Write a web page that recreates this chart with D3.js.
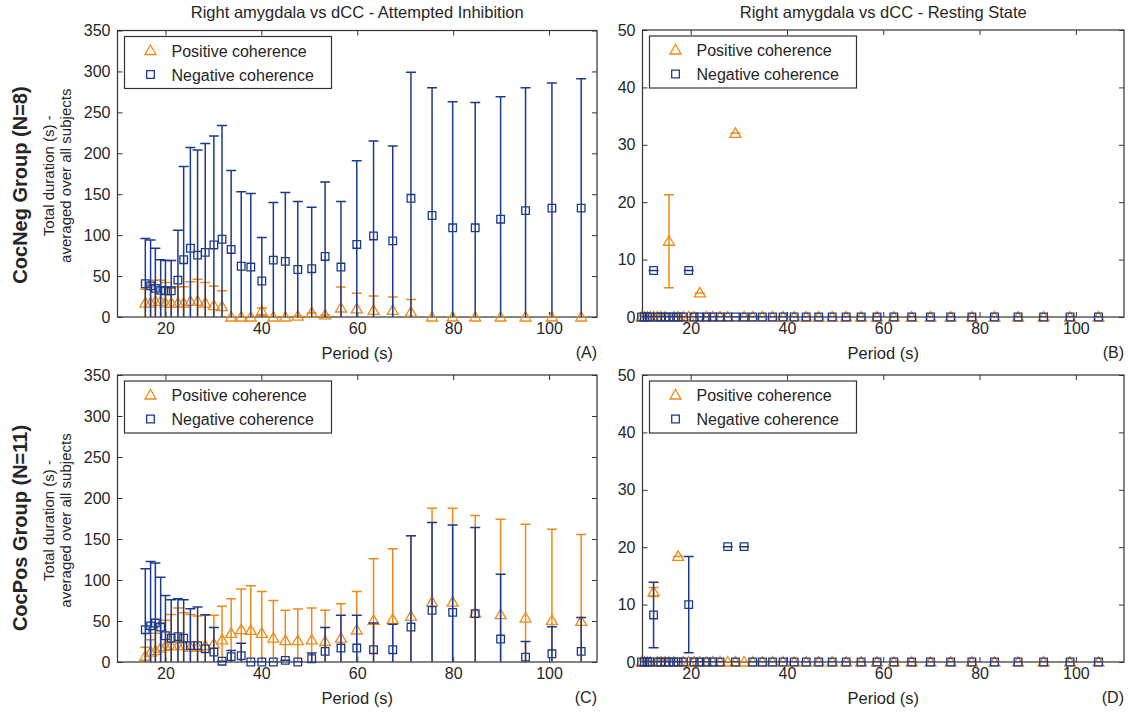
<!DOCTYPE html>
<html lang="en">
<head>
<meta charset="UTF-8">
<title>Right amygdala vs dCC coherence durations</title>
<style>
  html, body { margin: 0; padding: 0; background: #fff; }
  svg text { font-family: "Liberation Sans", Arial, sans-serif; fill: #262626; }
</style>
</head>
<body>
<div id="chart"></div>
<script src="https://d3js.org/d3.v7.min.js"></script>
<script>
// periods (s) of the attempted inhibition panels (A, C)
const periodsTask = [15.8, 16.9, 17.9, 19.0, 20.0, 21.2, 22.6, 23.8, 25.2, 26.7, 28.3, 30.1, 31.8, 33.7, 35.8, 37.8, 40.1,
  42.5, 45.0, 47.6, 50.5, 53.3, 56.6, 59.9, 63.4, 67.4, 71.2, 75.6, 79.9, 84.6, 89.9, 95.1, 100.6, 106.7];

// periods (s) of the resting state panels (B, D)
const periodsRest = [9.8, 10.4, 11.0, 11.6, 12.3, 13.1, 13.8, 14.7, 15.5, 16.5, 17.4, 18.5, 19.6, 20.7, 21.9, 23.3, 24.6,
  26.1, 27.7, 29.3, 31.1, 32.9, 34.9, 37.0, 39.2, 41.5, 44.0, 46.6, 49.4, 52.3, 55.4, 58.7, 62.2, 65.9, 69.8, 74.0, 78.4,
  83.1, 88.0, 93.3, 98.8, 104.7];

// (A) CocNeg, attempted inhibition
const posA = [17, 17, 19, 19, 17, 17, 17, 17, 19, 19, 17, 14, 12.6, 0, 0, 0, 7, 0, 0, 1, 5, 2.5, 11, 10, 8, 8, 6, 0, 0, 0, 0, 0, 0, 0];
const posAErr = [17, 21, 26, 26, 25, 18, 20, 20, 24, 27, 25, 24, 19.4, 0, 0, 0, 4, 0, 0, 0, 0, 0, 25.6, 19, 17.6, 16.4, 15.5, 0, 0, 0, 0, 0, 0, 0];
const negA = [40.6, 38, 35, 32.5, 32, 32, 45, 70, 84, 75.6, 79, 88, 95, 82.5, 62, 61, 44, 69.5, 68, 58, 59, 74, 61, 88.6,
  99, 93, 145, 124, 109, 109, 119.5, 130, 133, 133];
const negAErr = [55.4, 56, 49, 37.5, 37, 37, 61, 114, 123, 128.4, 133, 133, 139, 96.5, 91, 90, 53, 70.5, 84, 83, 75, 91, 80, 102.4,
  116, 116, 154, 156, 154, 153, 149.5, 150, 153, 158];

// (B) CocNeg, resting state
const posB = [0, 0, 0, 0, 0, 0, 0, 0, 13.2, 0, 0, 0, 0, 0, 4.2, 0, 0, 0, 0, 32, 0, 0, 0, 0, 0, 0, 0, 0, 0, 0, 0, 0, 0, 0, 0, 0, 0, 0, 0, 0, 0, 0];
const posBErr = [0, 0, 0, 0, 0, 0, 0, 0, 8.1, 0, 0, 0, 0, 0, 0, 0, 0, 0, 0, 0, 0, 0, 0, 0, 0, 0, 0, 0, 0, 0, 0, 0, 0, 0, 0, 0, 0, 0, 0, 0, 0, 0];
const negB = [0, 0, 0, 0, 8.1, 0, 0, 0, 0, 0, 0, 0, 8.1, 0, 0, 0, 0, 0, 0, 0, 0, 0, 0, 0, 0, 0, 0, 0, 0, 0, 0, 0, 0, 0, 0, 0, 0, 0, 0, 0, 0, 0];
const negBErr = [0, 0, 0, 0, 0, 0, 0, 0, 0, 0, 0, 0, 0, 0, 0, 0, 0, 0, 0, 0, 0, 0, 0, 0, 0, 0, 0, 0, 0, 0, 0, 0, 0, 0, 0, 0, 0, 0, 0, 0, 0, 0];

// (C) CocPos, attempted inhibition
const posC = [7, 12, 14, 17, 19, 20, 20, 20, 18, 18, 20, 22, 27, 35, 39.4, 38.6, 35, 29, 26, 26, 27, 25, 29, 39,
  50.7, 52, 55.6, 73, 73, 59.7, 57.7, 53.6, 50.7, 49.5];
const posCErr = [11, 15, 21, 30, 32, 38, 46, 40, 40, 38, 37, 35, 41, 42, 49.6, 54.4, 51, 46, 37, 38.6, 39, 38, 42, 47,
  75.3, 86, 98.4, 114.6, 114.6, 118.9, 116.3, 114.4, 111.3, 106];
const negC = [39.4, 44, 47.5, 42.6, 32, 29, 31, 29, 20, 20, 16, 12, 1, 6.5, 7.7, 0, 0, 0, 2, 0, 4, 13, 17, 17,
  15, 15, 42.6, 63, 60.5, 59, 28, 6, 10, 13];
const negCErr = [74.3, 78.6, 73.1, 60.9, 49, 47, 46, 47, 45, 47, 41.6, 30, 0, 7.5, 15.3, 0, 0, 0, 0, 0, 7, 29, 40, 40,
  32.5, 31, 111.4, 107, 106.5, 105, 79, 19, 33, 41.4];

// (D) CocPos, resting state
const posD = [0, 0, 0, 0, 12.2, 0, 0, 0, 0, 0, 18.4, 0, 0, 0, 0, 0, 0, 0, 0, 0, 0, 0, 0, 0, 0, 0, 0, 0, 0, 0, 0, 0, 0, 0, 0, 0, 0, 0, 0, 0, 0, 0];
const posDErr = [0, 0, 0, 0, 0.8, 0, 0, 0, 0, 0, 0, 0, 0, 0, 0, 0, 0, 0, 0, 0, 0, 0, 0, 0, 0, 0, 0, 0, 0, 0, 0, 0, 0, 0, 0, 0, 0, 0, 0, 0, 0, 0];
const negD = [0, 0, 0, 0, 8.2, 0, 0, 0, 0, 0, 0, 0, 10.0, 0, 0, 0, 0, 0, 20.1, 0, 20.1, 0, 0, 0, 0, 0, 0, 0, 0, 0, 0, 0, 0, 0, 0, 0, 0, 0, 0, 0, 0, 0];
const negDErr = [0, 0, 0, 0, 5.7, 0, 0, 0, 0, 0, 0, 0, 8.4, 0, 0, 0, 0, 0, 0, 0, 0, 0, 0, 0, 0, 0, 0, 0, 0, 0, 0, 0, 0, 0, 0, 0, 0, 0, 0, 0, 0, 0];

const xTicks = [20, 40, 60, 80, 100];
const seriesNames = ['Positive coherence', 'Negative coherence'];
const titles = ['Right amygdala vs dCC - Attempted Inhibition', 'Right amygdala vs dCC - Resting State'];
const groupLabels = ['CocNeg Group (N=8)', 'CocPos Group (N=11)'];
const yLabelLines = ['Total duration (s) -', 'averaged over all subjects'];

const width = 1133;
const height = 713;
const ORANGE = '#ee8a17';
const BLUE = '#1c3a8c';
const FRAME = '#333';
const CAP = 5;

const triangle = 'M0,-5.5L5.5,4L-5.5,4Z';
const square = 'M-3.8,-3.8H3.8V3.8H-3.8Z';

const svg = d3.select('#chart').append('svg')
  .attr('width', width)
  .attr('height', height);

const panels = [
  { id: 'A', left: 117.5, top: 30.5, right: 597, bottom: 317, yMax: 350, yStep: 50,
    periods: periodsTask, pos: posA, posErr: posAErr, neg: negA, negErr: negAErr, title: titles[0] },
  { id: 'B', left: 642.5, top: 30, right: 1124, bottom: 317, yMax: 50, yStep: 10,
    periods: periodsRest, pos: posB, posErr: posBErr, neg: negB, negErr: negBErr, title: titles[1] },
  { id: 'C', left: 117.5, top: 375, right: 597, bottom: 662, yMax: 350, yStep: 50,
    periods: periodsTask, pos: posC, posErr: posCErr, neg: negC, negErr: negCErr },
  { id: 'D', left: 642.5, top: 375, right: 1124, bottom: 662, yMax: 50, yStep: 10,
    periods: periodsRest, pos: posD, posErr: posDErr, neg: negD, negErr: negDErr },
];

const drawSeries = (g, x, y, p, periods, vals, errs, color, shape) => {
  const pts = periods.map((per, i) => ({ per, v: vals[i], e: errs[i] }));

  g.append('g')
    .attr('clip-path', `url(#clip-${p.id})`)
    .attr('stroke', color)
    .attr('stroke-width', 1.5)
    .attr('fill', 'none')
    .selectAll('path')
    .data(pts)
    .join('path')
    .attr('d', d => {
      const x0 = x(d.per);
      const y1 = y(d.v - d.e);
      const y2 = y(d.v + d.e);
      return `M${x0},${y1}V${y2}M${x0 - CAP},${y1}H${x0 + CAP}M${x0 - CAP},${y2}H${x0 + CAP}`;
    });

  g.append('g')
    .attr('stroke', color)
    .attr('stroke-width', 1.3)
    .attr('fill', 'none')
    .selectAll('path')
    .data(pts)
    .join('path')
    .attr('transform', d => `translate(${x(d.per)},${y(d.v)})`)
    .attr('d', shape);
};

panels.forEach(p => {
  const x = d3.scaleLinear().domain([10, 110]).range([p.left, p.right]);
  const y = d3.scaleLinear().domain([0, p.yMax]).range([p.bottom, p.top]);
  const yTicks = d3.range(0, p.yMax + 1, p.yStep);
  const g = svg.append('g');

  g.append('clipPath')
    .attr('id', `clip-${p.id}`)
    .append('rect')
    .attr('x', p.left)
    .attr('y', p.top)
    .attr('width', p.right - p.left)
    .attr('height', p.bottom - p.top);

  // axes, ticks pointing inwards like matlab
  const bottomAxis = g.append('g')
    .attr('transform', `translate(0,${p.bottom})`)
    .call(d3.axisBottom(x).tickValues(xTicks).tickSize(-5).tickPadding(6));
  g.append('g')
    .attr('transform', `translate(0,${p.top})`)
    .call(d3.axisTop(x).tickValues(xTicks).tickSize(-5).tickFormat(''));
  const leftAxis = g.append('g')
    .attr('transform', `translate(${p.left},0)`)
    .call(d3.axisLeft(y).tickValues(yTicks).tickSize(-5).tickPadding(7));
  g.append('g')
    .attr('transform', `translate(${p.right},0)`)
    .call(d3.axisRight(y).tickValues(yTicks).tickSize(-5).tickFormat(''));

  g.selectAll('.domain').remove();
  g.selectAll('.tick line').attr('stroke', FRAME);
  [bottomAxis, leftAxis].forEach(a => a.selectAll('text')
    .attr('font-size', 16)
    .attr('font-family', '"Liberation Sans", Arial, sans-serif')
    .attr('fill', '#262626'));

  g.append('rect')
    .attr('x', p.left)
    .attr('y', p.top)
    .attr('width', p.right - p.left)
    .attr('height', p.bottom - p.top)
    .attr('fill', 'none')
    .attr('stroke', FRAME)
    .attr('stroke-width', 1.2);

  drawSeries(g, x, y, p, p.periods, p.pos, p.posErr, ORANGE, triangle);
  drawSeries(g, x, y, p, p.periods, p.neg, p.negErr, BLUE, square);

  // legend
  const lx = p.left + 7;
  const ly = p.top + 6;
  const legend = g.append('g').attr('transform', `translate(${lx},${ly})`);
  legend.append('rect')
    .attr('width', 207)
    .attr('height', 52)
    .attr('fill', '#fff')
    .attr('stroke', FRAME)
    .attr('stroke-width', 1.2);
  [[triangle, ORANGE], [square, BLUE]].forEach(([shape, color], i) => {
    legend.append('path')
      .attr('transform', `translate(26,${14 + i * 24})`)
      .attr('d', shape)
      .attr('fill', 'none')
      .attr('stroke', color)
      .attr('stroke-width', 1.3);
    legend.append('text')
      .attr('x', 47)
      .attr('y', 20 + i * 24)
      .attr('font-size', 16)
      .text(seriesNames[i]);
  });

  if (p.title) {
    g.append('text')
      .attr('x', (p.left + p.right) / 2)
      .attr('y', 18)
      .attr('text-anchor', 'middle')
      .attr('font-size', 16.5)
      .text(p.title);
  }

  g.append('text')
    .attr('x', (p.left + p.right) / 2)
    .attr('y', p.bottom + 42)
    .attr('text-anchor', 'middle')
    .attr('font-size', 16.5)
    .text('Period (s)');

  g.append('text')
    .attr('x', p.right)
    .attr('y', p.bottom + 41)
    .attr('text-anchor', 'end')
    .attr('font-size', 16)
    .text(`(${p.id})`);
});

// row labels on the left
[[30.5, 317, 185], [375, 662, 528]].forEach(([top, bottom, groupY], row) => {
  const cy = (top + bottom) / 2;
  svg.append('text')
    .attr('transform', `translate(27,${groupY}) rotate(-90)`)
    .attr('text-anchor', 'middle')
    .attr('font-size', 20)
    .attr('font-weight', 'bold')
    .text(groupLabels[row]);
  yLabelLines.forEach((line, i) => {
    svg.append('text')
      .attr('transform', `translate(${54 + i * 17},${cy + 2}) rotate(-90)`)
      .attr('text-anchor', 'middle')
      .attr('font-size', 15)
      .text(line);
  });
});
</script>
</body>
</html>
